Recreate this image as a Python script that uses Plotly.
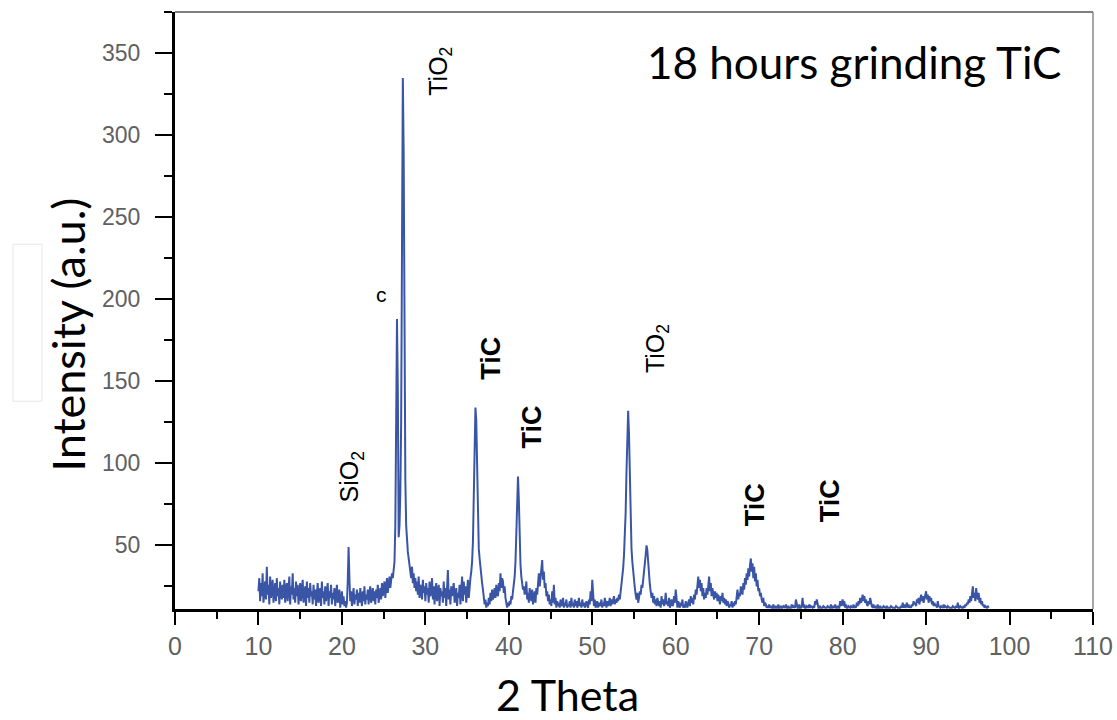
import plotly.graph_objects as go

# ---- data ----
scan_start = 10.0
scan_step = 0.1

i_10_20 = [
    22, 30, 16, 27, 19, 33, 15, 24, 28, 17,
    37, 20, 26, 14, 31, 18, 25, 29, 15, 22,
    27, 16, 30, 19, 24, 14, 28, 21, 17, 26,
    18, 29, 15, 23, 27, 16, 22, 31, 14, 25,
    20, 33, 17, 24, 15, 28, 19, 26, 14, 23,
    27, 16, 22, 29, 15, 21, 25, 13, 28, 18,
    24, 15, 27, 19, 22, 14, 26, 17, 23, 13,
    21, 27, 15, 19, 24, 13, 28, 18, 22, 14,
    25, 16, 20, 27, 13, 22, 18, 26, 14, 21,
    17, 24, 13, 20, 26, 15, 19, 23, 12, 18,
]
i_20_30 = [
    22, 14, 19, 13, 16, 12, 15, 28, 49, 30,
    16, 22, 13, 19, 24, 14, 20, 17, 23, 13,
    21, 15, 24, 18, 13, 22, 16, 25, 14, 20,
    17, 23, 14, 21, 25, 15, 19, 24, 16, 22,
    14, 23, 18, 26, 15, 21, 24, 17, 27, 19,
    23, 28, 18, 26, 30, 21, 27, 31, 24, 29,
    33, 30, 36, 40, 62, 130, 188, 145, 55, 62,
    82, 125, 230, 335, 290, 160, 90, 62, 52, 46,
    42, 38, 35, 30, 37, 27, 33, 24, 30, 22,
    28, 20, 31, 18, 26, 23, 17, 29, 21, 25,
]
i_30_40 = [
    16, 27, 20, 24, 15, 28, 19, 22, 30, 17,
    25, 14, 23, 27, 16, 21, 26, 13, 24, 19,
    22, 15, 28, 18, 24, 13, 21, 35, 17, 23,
    14, 25, 19, 22, 27, 15, 20, 24, 13, 21,
    18, 26, 14, 23, 31, 16, 28, 20, 25, 15,
    22, 29, 18, 26, 30, 34, 40, 52, 86, 112,
    134, 126, 96, 60, 48, 42, 35, 31, 27, 23,
    19, 14, 17, 12, 15, 13, 18, 14, 21, 16,
    23, 17, 20, 24, 18, 26, 21, 19, 27, 22,
    33, 24, 30, 28, 21, 25, 18, 14, 12, 15,
]
i_40_50 = [
    13, 16, 14, 19, 17, 22, 26, 31, 40, 55,
    75, 92, 78, 52, 38, 31, 27, 23, 25, 20,
    22, 28, 17, 21, 15, 24, 19, 16, 23, 14,
    18, 22, 15, 24, 20, 27, 33, 25, 30, 36,
    41, 29, 34, 24, 27, 19, 22, 16, 20, 14,
    17, 13, 22, 15, 26, 14, 18, 12, 16, 13,
    15, 12, 17, 13, 14, 18, 12, 15, 13, 17,
    12, 14, 13, 16, 12, 18, 13, 15, 12, 17,
    13, 16, 12, 14, 18, 13, 15, 12, 17, 13,
    15, 12, 14, 16, 13, 12, 17, 14, 22, 16,
]
i_50_60 = [
    29, 15, 13, 17, 12, 14, 16, 12, 15, 13,
    14, 17, 12, 15, 13, 18, 14, 12, 16, 13,
    15, 18, 13, 17, 14, 16, 19, 14, 17, 15,
    18, 16, 20, 17, 22, 24, 30, 36, 44, 55,
    70, 95, 122, 132, 118, 92, 64, 48, 40, 33,
    28, 24, 20, 17, 21, 15, 18, 22, 20, 26,
    24, 28, 33, 39, 44, 50, 47, 38, 31, 26,
    22, 18, 21, 15, 19, 14, 17, 13, 18, 15,
    13, 16, 12, 19, 14, 17, 13, 15, 21, 14,
    16, 13, 18, 12, 15, 17, 13, 14, 19, 15,
]
i_60_70 = [
    23, 14, 12, 16, 13, 12, 15, 13, 17, 12,
    14, 12, 16, 13, 12, 15, 17, 13, 19, 15,
    18, 14, 20, 17, 23, 20, 28, 31, 24, 29,
    22, 27, 19, 24, 17, 21, 18, 24, 20, 26,
    31, 22, 27, 19, 24, 20, 17, 22, 18, 21,
    16, 20, 17, 14, 19, 16, 21, 15, 18, 14,
    17, 13, 16, 15, 12, 14, 13, 16, 12, 15,
    13, 16, 14, 18, 23, 17, 21, 19, 25, 22,
    20, 27, 23, 30, 26, 33, 29, 36, 31, 38,
    42, 34, 39, 30, 37, 28, 33, 25, 29, 22,
]
i_70_80 = [
    24, 19, 21, 17, 15, 18, 13, 15, 14, 12,
    13, 12, 14, 12, 13, 12, 12, 14, 12, 12,
    13, 12, 12, 14, 12, 12, 13, 12, 12, 13,
    12, 12, 14, 12, 12, 13, 12, 12, 12, 14,
    12, 13, 12, 12, 17, 13, 12, 12, 14, 12,
    12, 13, 18, 12, 14, 12, 12, 13, 12, 12,
    14, 12, 13, 12, 12, 13, 12, 16, 14, 17,
    13, 12, 12, 13, 12, 12, 12, 13, 12, 12,
    12, 12, 13, 12, 12, 12, 14, 12, 12, 13,
    12, 14, 12, 12, 13, 12, 12, 16, 13, 15,
]
i_80_90 = [
    17, 13, 16, 12, 14, 12, 12, 13, 12, 12,
    13, 12, 12, 14, 12, 13, 12, 15, 13, 16,
    14, 18, 15, 17, 20, 16, 19, 15, 17, 14,
    13, 16, 14, 18, 15, 13, 12, 14, 12, 13,
    12, 12, 14, 12, 12, 13, 12, 12, 12, 13,
    12, 12, 12, 13, 12, 12, 12, 12, 13, 12,
    12, 12, 12, 12, 13, 12, 12, 12, 12, 12,
    13, 12, 15, 12, 14, 12, 13, 15, 12, 14,
    12, 13, 12, 14, 13, 16, 14, 15, 13, 17,
    15, 18, 14, 17, 20, 16, 19, 15, 18, 21,
]
i_90_975 = [
    22, 17, 20, 15, 19, 16, 18, 14, 16, 13,
    15, 13, 14, 12, 16, 13, 12, 12, 13, 12,
    12, 14, 12, 13, 12, 12, 13, 12, 12, 12,
    12, 12, 13, 12, 12, 12, 13, 12, 15, 12,
    12, 13, 12, 12, 12, 13, 12, 14, 13, 15,
    14, 17, 15, 19, 16, 22, 25, 18, 21, 16,
    24, 19, 17, 21, 15, 18, 14, 16, 13, 14,
    12, 13, 12, 12, 13, 12,
]

intensity = (i_10_20 + i_20_30 + i_30_40 + i_40_50 + i_50_60
             + i_60_70 + i_70_80 + i_80_90 + i_90_975)
two_theta = [round(scan_start + k * scan_step, 1) for k in range(len(intensity))]

x_ticks = list(range(0, 111, 10))
y_ticks = list(range(50, 351, 50))

peak_text = ["SiO<sub>2</sub>", "c", "TiO<sub>2</sub>", "<b>TiC</b>", "<b>TiC</b>",
             "TiO<sub>2</sub>", "<b>TiC</b>", "<b>TiC</b>"]
peak_x = [21.2, 24.8, 31.8, 37.9, 42.8, 57.7, 69.6, 78.5]
peak_y = [92, 203, 339, 164, 122, 170, 75, 77]
peak_angle = [-90, 0, -90, -90, -90, -90, -90, -90]
peak_size = [25, 21, 25, 27, 27, 25, 27, 27]

title_text = "18 hours grinding TiC"
x_title = "2 Theta"
y_title = "Intensity (a.u.)"

# ---- figure ----
fig = go.Figure()
fig.add_trace(go.Scatter(
    x=two_theta, y=intensity, mode="lines",
    line=dict(color="#3a55a6", width=2.0),
    hoverinfo="x+y", showlegend=False,
))

tick_font = dict(family="Liberation Sans Narrow, Liberation Sans, Arial", size=25, color="#606060")

fig.update_layout(
    width=1117, height=720, autosize=False,
    margin=dict(l=175, r=24, t=12, b=111, autoexpand=False),
    paper_bgcolor="white", plot_bgcolor="white",
    showlegend=False,
    xaxis=dict(
        range=[0, 110], tickmode="array", tickvals=x_ticks, automargin=False,
        ticks="outside", ticklen=13, tickwidth=2, tickcolor="black",
        showline=True, linecolor="black", linewidth=3,
        showgrid=False, zeroline=False, tickfont=tick_font,
        minor=dict(dtick=5, tick0=0, ticks="outside", ticklen=7, tickwidth=2,
                   tickcolor="black", showgrid=False),
    ),
    yaxis=dict(
        range=[11.2, 375.2], tickmode="array", tickvals=y_ticks, automargin=False,
        ticks="outside", ticklen=17, tickwidth=2, tickcolor="black",
        showline=True, linecolor="black", linewidth=3,
        showgrid=False, zeroline=False, tickfont=dict(tick_font, size=23),
        ticklabelstandoff=10,
        minor=dict(dtick=25, tick0=0, ticks="outside", ticklen=8, tickwidth=2,
                   tickcolor="black", showgrid=False),
    ),
)

# frame lines (top and right)
fig.add_shape(type="line", xref="paper", yref="paper", x0=0, x1=1, y0=1, y1=1,
              line=dict(color="#555", width=1.5))
fig.add_shape(type="line", xref="paper", yref="paper", x0=1, x1=1, y0=0, y1=1,
              line=dict(color="#888", width=1.5))
# faint box at left edge
fig.add_shape(type="rect", xref="paper", yref="paper",
              x0=-0.1765, x1=-0.1449, y0=0.348, y1=0.611,
              line=dict(color="#e6e6e6", width=1))

for t, x, y, a, s in zip(peak_text, peak_x, peak_y, peak_angle, peak_size):
    fig.add_annotation(x=x, y=y, xref="x", yref="y", text=t, textangle=a,
                       showarrow=False, xanchor="center", yanchor="middle",
                       font=dict(family="Liberation Sans, Arial", size=s, color="black"))

fig.add_annotation(x=0.7407, y=0.916, xref="paper", yref="paper", text=title_text,
                   showarrow=False, xanchor="center", yanchor="middle",
                   font=dict(family="Lato, Open Sans", size=44, color="black"))
fig.add_annotation(x=0.428, y=-0.143, xref="paper", yref="paper", text=x_title,
                   showarrow=False, xanchor="center", yanchor="middle",
                   font=dict(family="Lato, Open Sans", size=43, color="black"))
fig.add_annotation(x=-0.1166, y=0.4596, xref="paper", yref="paper", text=y_title,
                   showarrow=False, xanchor="center", yanchor="middle", textangle=-90,
                   font=dict(family="Lato, Open Sans", size=45, color="black"))

fig.write_html(
    "out.html",
    config={"displayModeBar": False, "responsive": False},
    post_script="document.body.style.margin='0';document.body.style.overflow='hidden';",
)
